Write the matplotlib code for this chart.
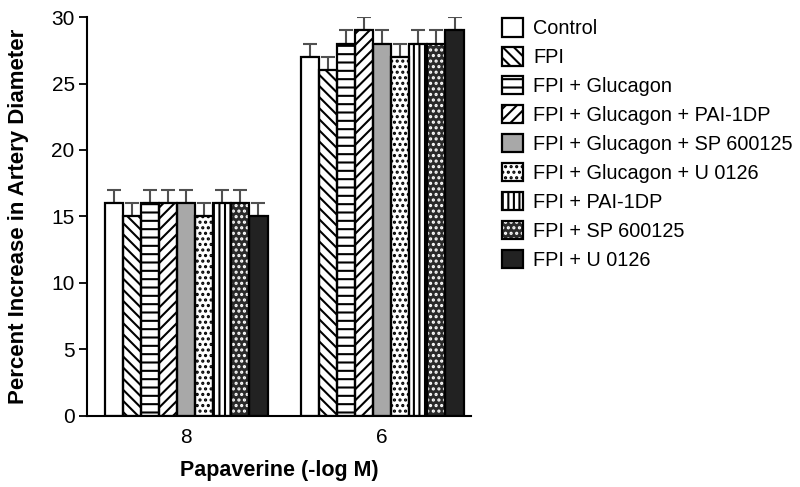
import matplotlib.pyplot as plt
import numpy as np
from matplotlib.patches import Patch

plt.rcParams['font.family'] = ['Liberation Sans', 'DejaVu Sans']
plt.rcParams['hatch.linewidth'] = 1.5

groups = ['8', '6']
labels = ['Control', 'FPI', 'FPI + Glucagon', 'FPI + Glucagon + PAI-1DP',
          'FPI + Glucagon + SP 600125', 'FPI + Glucagon + U 0126',
          'FPI + PAI-1DP', 'FPI + SP 600125', 'FPI + U 0126']
vals_8 = [16, 15, 16, 16, 16, 15, 16, 16, 15]
vals_6 = [27, 26, 28, 29, 28, 27, 28, 28, 29]
err_8 = [1, 1, 1, 1, 1, 1, 1, 1, 1]
err_6 = [1, 1, 1, 1, 1, 1, 1, 1, 1]

# face, hatch, hatch colour
styles = [('white', None, 'black'),
          ('white', '\\\\\\', 'black'),
          ('white', '--', 'black'),
          ('white', '///', 'black'),
          ('#a8a8a8', None, 'black'),
          ('white', '...', 'black'),
          ('white', '|||', 'black'),
          ('#2a2a2a', '...', 'white'),
          ('#222222', None, 'black')]

fig = plt.figure(figsize=(8, 4.87), dpi=100)
ax = fig.add_axes([0.109, 0.146, 0.48, 0.819])

x = np.arange(len(groups))
n = len(labels)
w = 0.83 / n
handles = []
for i in range(n):
    pos = x - 0.415 + w * (i + 0.5)
    v = [vals_8[i], vals_6[i]]
    e = [err_8[i], err_6[i]]
    face, hatch, hc = styles[i]
    ax.errorbar(pos, v, yerr=[[0, 0], e], fmt='none', ecolor='#505050',
                elinewidth=1.5, capsize=5, capthick=1.5, zorder=1)
    ax.bar(pos, v, w, color=face, edgecolor=hc, hatch=hatch, linewidth=0, zorder=2)
    ax.bar(pos, v, w, fill=False, edgecolor='black', linewidth=1.6, zorder=3)
    h1 = Patch(facecolor=face, edgecolor=hc, hatch=hatch, linewidth=0)
    h2 = Patch(fill=False, edgecolor='black', linewidth=1.6)
    handles.append((h1, h2))

ax.set_xlim(-0.505, 1.454)
ax.set_ylim(0, 30)
ax.set_yticks([0, 5, 10, 15, 20, 25, 30])
ax.set_xticks(x)
ax.set_xticklabels(groups)
ax.tick_params(axis='x', length=0, labelsize=15, pad=9)
ax.tick_params(axis='y', length=6, width=1.3, labelsize=15, pad=3)
ax.spines['top'].set_visible(False)
ax.spines['right'].set_visible(False)
ax.spines['left'].set_linewidth(1.5)
ax.spines['bottom'].set_linewidth(1.5)
ax.set_ylabel('Percent Increase in Artery Diameter', fontsize=16, fontweight='bold', labelpad=16)
ax.set_xlabel('Papaverine (-log M)', fontsize=15.5, fontweight='bold', labelpad=9)

fig.legend(handles, labels, loc='upper left', bbox_to_anchor=(0.618, 0.979),
           frameon=False, fontsize=14.3, handlelength=1.05, handleheight=1.05,
           labelspacing=0.45, handletextpad=0.5, borderaxespad=0)

fig.savefig('out.png', dpi=100)
